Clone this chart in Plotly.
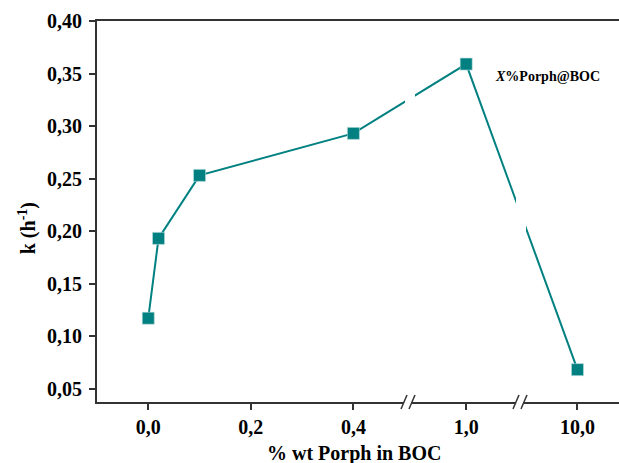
import plotly.graph_objects as go

# ---- data ----
porph_pct = [0.0, 0.02, 0.1, 0.4, 1.0, 10.0]
k_values = [0.117, 0.193, 0.253, 0.293, 0.359, 0.068]
x_tick_values = [0.0, 0.2, 0.4, 1.0, 10.0]
x_tick_labels = ["0,0", "0,2", "0,4", "1,0", "10,0"]
series_name = "<i>X</i>%Porph@BOC"

# ---- broken x-axis mapping (linear part up to the first break) ----
BREAK1 = 0.5065
BREAK2 = 0.7249
BROKEN_POS = {1.0: 0.620, 10.0: 0.837}


def to_axis(v):
    if v <= 0.5:
        return v
    return BROKEN_POS[v]


TEAL = "#008080"
AX = "#333333"
FONT = "Liberation Serif"

fig = go.Figure()
fig.add_trace(go.Scatter(
    x=[to_axis(v) for v in porph_pct], y=k_values,
    mode="lines+markers",
    line=dict(color=TEAL, width=2),
    marker=dict(symbol="square", size=12, color=TEAL,
                line=dict(color="#b8dcdc", width=0.6)),
    showlegend=False,
))

shapes = []
# gaps in the data line at the breaks
for bx, (a, b) in [(BREAK1, (-3, 7)), (BREAK2, (-4, 6))]:
    shapes.append(dict(type="rect", xref="x", yref="y", xsizemode="pixel",
                       xanchor=bx, x0=a, x1=b, y0=0.045, y1=0.393,
                       fillcolor="white", line=dict(width=0), layer="above"))
# axis breaks: white gap + two slashes
for bx in [BREAK1, BREAK2]:
    shapes.append(dict(type="rect", xref="x", yref="paper", xsizemode="pixel",
                       ysizemode="pixel", xanchor=bx, yanchor=0,
                       x0=-4, x1=4, y0=-3, y1=3,
                       fillcolor="white", line=dict(width=0), layer="above"))
    for off in (-4, 4):
        shapes.append(dict(type="line", xref="x", yref="paper", xsizemode="pixel",
                           ysizemode="pixel", xanchor=bx, yanchor=0,
                           x0=off - 3, x1=off + 3, y0=-7, y1=7,
                           line=dict(color=AX, width=1.5), layer="above"))

annotations = [
    dict(text="<b>" + series_name + "</b>", x=0.7795, y=0.3467, xref="x", yref="y",
         showarrow=False, xanchor="center", yanchor="middle",
         font=dict(family=FONT, size=14, color="black")),
    dict(text="<b>% wt Porph in BOC</b>", x=0.492, y=-0.134, xref="paper", yref="paper",
         showarrow=False, xanchor="center", yanchor="middle",
         font=dict(family=FONT, size=20, color="black")),
    dict(text="<b>k (h<sup>-1</sup>)</b>", x=-0.134, y=0.2027, xref="paper", yref="y",
         showarrow=False, xanchor="center", yanchor="middle", textangle=-90,
         font=dict(family=FONT, size=20, color="black")),
]

fig.update_layout(
    width=619, height=463,
    margin=dict(l=97, r=0, t=21, b=61),
    plot_bgcolor="white", paper_bgcolor="white",
    separators=", ",
    shapes=shapes,
    annotations=annotations,
    xaxis=dict(
        range=[-0.100, 0.918], tickmode="array",
        tickvals=[to_axis(v) for v in x_tick_values], ticktext=x_tick_labels,
        showgrid=False, zeroline=False,
        showline=True, linecolor=AX, linewidth=2, mirror=True,
        ticks="outside", ticklen=6, tickwidth=1.5, tickcolor=AX,
        tickfont=dict(family=FONT, size=20, color="black", weight="bold"),
    ),
    yaxis=dict(
        range=[0.0372, 0.40], tick0=0.05, dtick=0.05, tickformat=".2f",
        showgrid=False, zeroline=False,
        showline=True, linecolor=AX, linewidth=2,
        ticks="outside", ticklen=6, tickwidth=1.5, tickcolor=AX,
        ticklabelstandoff=3,
        tickfont=dict(family=FONT, size=20, color="black", weight="bold"),
    ),
)

fig.write_html("out.html")
